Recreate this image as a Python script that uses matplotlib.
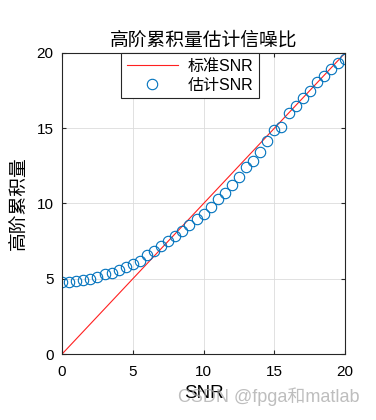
import numpy as np
import matplotlib
matplotlib.use("Agg")
import matplotlib.pyplot as plt

plt.rcParams['font.family'] = ['Liberation Sans', 'Noto Sans CJK SC', 'DejaVu Sans']

# standard SNR (dB) on the x axis, step 0.5
snr = np.arange(0, 20.5, 0.5)
# estimated SNR
snr_est = [4.80, 4.80, 4.85, 4.95, 5.00, 5.15, 5.30, 5.40, 5.55, 5.75,
           5.95, 6.20, 6.55, 6.85, 7.20, 7.50, 7.85, 8.15, 8.55, 8.95,
           9.30, 9.80, 10.30, 10.70, 11.20, 11.75, 12.40, 12.80, 13.40, 14.15,
           14.90, 15.10, 16.00, 16.45, 17.00, 17.45, 18.10, 18.50, 18.95, 19.30,
           19.60]
ticks = [0, 5, 10, 15, 20]

fig = plt.figure(figsize=(3.76, 4.2), dpi=100)
ax = fig.add_axes([0.165, 0.157, 0.753, 0.717])

ax.plot(snr, snr, color='#FF2020', lw=0.8, label='标准SNR')
ax.plot(snr, snr_est, 'o', ms=7.5, mfc='none', mec='#0072BD', mew=0.8, label='估计SNR')

ax.set_xlim(0, 20)
ax.set_ylim(0, 20)
ax.set_xticks(ticks)
ax.set_yticks(ticks)
ax.grid(True, color='#DCDCDC', lw=0.6)
ax.tick_params(direction='in', top=True, right=True, labelsize=11, length=3,
               color='#262626')
ax.tick_params(axis='x', pad=8)
ax.tick_params(axis='y', pad=6)
for s in ax.spines.values():
    s.set_color('#262626')
    s.set_linewidth(0.8)

ax.set_title('高阶累积量估计信噪比', fontsize=13.5, pad=5,
             family=['Noto Sans CJK SC', 'DejaVu Sans'])
ax.set_xlabel('SNR', fontsize=13.5, labelpad=4)
ax.set_ylabel('高阶累积量', fontsize=13.5, labelpad=6,
              family=['Noto Sans CJK SC', 'DejaVu Sans'])

leg = ax.legend(loc='upper center', bbox_to_anchor=(0.452, 1.0), borderaxespad=0,
                fancybox=False, framealpha=1, edgecolor='#262626',
                handlelength=3.2, handletextpad=0.6, borderpad=0.35,
                labelspacing=0.25,
                prop={'family': ['Liberation Sans', 'Noto Sans CJK SC'], 'size': 11.5})
leg.get_frame().set_linewidth(0.8)

# watermark
fig.text(0.955, 0.055, 'CSDN @fpga和matlab', ha='right', va='center', fontsize=13,
         color='#A8A8A8', alpha=0.75,
         family=['Liberation Sans', 'Noto Sans CJK SC'])

fig.savefig('out.png', dpi=100)
